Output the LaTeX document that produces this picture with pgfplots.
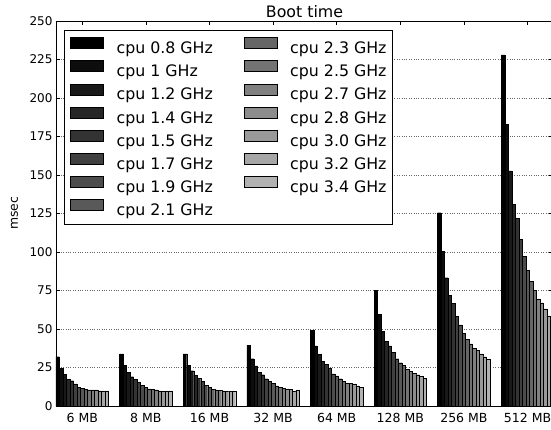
\documentclass[border=0pt]{standalone}
\usepackage{pgfplots}
\pgfplotsset{compat=1.18}
\usepackage{fontspec}
\setmainfont{DejaVu Sans}
\usetikzlibrary{calc}

% grey ramp, black for the slowest clock to light grey for the fastest
\definecolor{g0}{gray}{0.00}
\definecolor{g1}{gray}{0.05}
\definecolor{g2}{gray}{0.10}
\definecolor{g3}{gray}{0.15}
\definecolor{g4}{gray}{0.20}
\definecolor{g5}{gray}{0.25}
\definecolor{g6}{gray}{0.30}
\definecolor{g7}{gray}{0.35}
\definecolor{g8}{gray}{0.40}
\definecolor{g9}{gray}{0.45}
\definecolor{g10}{gray}{0.50}
\definecolor{g11}{gray}{0.55}
\definecolor{g12}{gray}{0.60}
\definecolor{g13}{gray}{0.65}
\definecolor{g14}{gray}{0.70}

\pgfplotsset{
  boxleg/.style={legend image code/.code={\draw[##1, line width=0.6pt] (0pt,0pt) rectangle (33pt,11pt);}},
}
% #1 colour, #2 shift inside the group, #3 coordinates
\newcommand{\cpubar}[3]{\addplot[ybar, bar width=0.055, bar shift=#2, fill=#1, draw=black, line width=0.4pt, boxleg] coordinates {#3};}

\begin{document}
\begin{tikzpicture}
\begin{axis}[
  name=ax,
  scale only axis,
  width=497pt, height=385pt,
  xmin=-0.4125, xmax=7.40,
  ymin=0, ymax=250,
  xtick={0,...,7},
  xticklabels={6 MB,8 MB,16 MB,32 MB,64 MB,128 MB,256 MB,512 MB},
  ytick={0,25,...,250},
  tick align=inside,
  xtick pos=both, ytick pos=both,
  major tick length=4pt,
  tick style={black, line width=0.5pt},
  ymajorgrids,
  grid style={dotted, black!60, line width=0.5pt},
  axis line style={line width=0.8pt},
  ticklabel style={font=\fontsize{12}{14}\selectfont},
  xticklabel style={anchor=base, yshift=-16pt, font=\fontsize{12.5}{14}\selectfont},
  /pgf/number format/assume math mode=true,
  ylabel={msec},
  ylabel style={at={(axis description cs:-0.0835,0.5)}, anchor=center, font=\fontsize{12.4}{14}\selectfont},
  legend columns=2,
  legend cell align=left,
  legend style={at={(axis description cs:0,1)}, anchor=north west, xshift=8pt, yshift=-9pt,
    draw=black, line width=0.6pt, font=\fontsize{15.8}{19}\selectfont,
    inner xsep=6pt, inner ysep=7pt, row sep=5.2pt,
    nodes={inner sep=0pt},
    /tikz/every odd column/.append style={column sep=12.7pt},
    /tikz/every even column/.append style={column sep=31pt}},
  legend entries={cpu 0.8 GHz, cpu 2.3 GHz, cpu 1 GHz, cpu 2.5 GHz, cpu 1.2 GHz, cpu 2.7 GHz,
    cpu 1.4 GHz, cpu 2.8 GHz, cpu 1.5 GHz, cpu 3.0 GHz, cpu 1.7 GHz, cpu 3.2 GHz,
    cpu 1.9 GHz, cpu 3.4 GHz, cpu 2.1 GHz},
]
% groups: 6, 8, 16, 32, 64, 128, 256, 512 MB
% plotted in legend order so the two columns fill top to bottom
\cpubar{g0}{-0.385}{(0,32) (1,33.8) (2,33.8) (3,39.6) (4,48.9) (5,75.3) (6,125.5) (7,228)}
\cpubar{g8}{0.055}{(0,10.8) (1,11.2) (2,11) (3,13) (4,17.7) (5,26.2) (6,43.3) (7,81)}
\cpubar{g1}{-0.33}{(0,24.5) (1,26.2) (2,26.4) (3,30.7) (4,39) (5,59.7) (6,100.2) (7,183)}
\cpubar{g9}{0.11}{(0,10.4) (1,10.6) (2,10.4) (3,12.3) (4,16.2) (5,24) (6,40.3) (7,75)}
\cpubar{g2}{-0.275}{(0,20.6) (1,21.9) (2,22.9) (3,26) (4,33.5) (5,48.3) (6,83.3) (7,152.6)}
\cpubar{g10}{0.165}{(0,10.4) (1,10.4) (2,10) (3,11.5) (4,14.7) (5,22.3) (6,37.5) (7,69.5)}
\cpubar{g3}{-0.22}{(0,17.5) (1,19) (2,20.1) (3,21.9) (4,28.8) (5,42.2) (6,72) (7,131)}
\cpubar{g11}{0.22}{(0,10.4) (1,9.9) (2,9.9) (3,11.2) (4,14.5) (5,21.4) (6,36) (7,67)}
\cpubar{g4}{-0.165}{(0,16.4) (1,17.5) (2,18) (3,20.3) (4,27.1) (5,39) (6,66.6) (7,122)}
\cpubar{g12}{0.275}{(0,9.9) (1,9.3) (2,9.6) (3,10.6) (4,14.3) (5,20.3) (6,33.8) (7,63)}
\cpubar{g5}{-0.11}{(0,14.3) (1,15.4) (2,15.8) (3,17.7) (4,24.5) (5,34.8) (6,58.4) (7,108)}
\cpubar{g13}{0.33}{(0,9.9) (1,9.9) (2,9.6) (3,9.9) (4,13) (5,19.3) (6,32) (7,58.6)}
\cpubar{g6}{-0.055}{(0,12.3) (1,13.6) (2,13.6) (3,16.2) (4,20.8) (5,30.7) (6,52.6) (7,97)}
\cpubar{g14}{0.385}{(0,9.9) (1,9.9) (2,9.6) (3,10.4) (4,12.3) (5,18) (6,30.5) (7,56)}
\cpubar{g7}{0}{(0,11.5) (1,11.9) (2,11.9) (3,14.5) (4,19.5) (5,28.1) (6,47.2) (7,88)}
\end{axis}
\node[anchor=base, font=\fontsize{15.8}{18}\selectfont] at ($(ax.north)+(0pt,3.5pt)$) {Boot time};
\pgfresetboundingbox
\path ($(ax.south west)+(-56pt,-23pt)$) rectangle ($(ax.north east)+(-2pt,21pt)$);
\end{tikzpicture}
\end{document}
